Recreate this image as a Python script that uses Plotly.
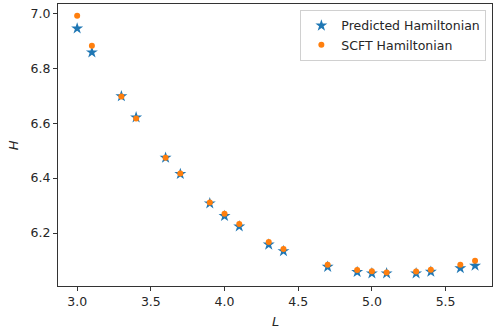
import plotly.graph_objects as go

# Lamellar period L and the corresponding Hamiltonian values
L_vals = [3.0, 3.1, 3.3, 3.4, 3.6, 3.7, 3.9, 4.0, 4.1, 4.3, 4.4, 4.7, 4.9, 5.0, 5.1, 5.3, 5.4, 5.6, 5.7]
H_predicted = [6.945, 6.858, 6.698, 6.621, 6.474, 6.415, 6.308, 6.262, 6.224, 6.158, 6.134,
               6.077, 6.058, 6.053, 6.053, 6.053, 6.059, 6.072, 6.081]
H_scft = [6.991, 6.882, 6.697, 6.617, 6.474, 6.417, 6.311, 6.270, 6.233, 6.167, 6.142,
          6.084, 6.065, 6.061, 6.056, 6.060, 6.066, 6.084, 6.099]

x_ticks = [3.0, 3.5, 4.0, 4.5, 5.0, 5.5]
y_ticks = [6.2, 6.4, 6.6, 6.8, 7.0]

FONT = "DejaVu Sans"
TXT = "#262626"

fig = go.Figure()
fig.add_trace(go.Scatter(
    x=L_vals, y=H_predicted, mode="markers", name="Predicted Hamiltonian",
    marker=dict(symbol="star", size=9, color="#1f77b4", line=dict(width=0)),
))
fig.add_trace(go.Scatter(
    x=L_vals, y=H_scft, mode="markers", name="SCFT Hamiltonian",
    marker=dict(symbol="circle", size=6, color="#ff7f0e", line=dict(width=0)),
))

axis_common = dict(
    showgrid=False, zeroline=False, showline=True, mirror=True,
    linecolor="#333333", linewidth=1, ticks="outside", ticklen=4,
    tickwidth=1, tickcolor="#333333",
    tickfont=dict(family=FONT, size=12.5, color=TXT),
)

fig.update_layout(
    width=493, height=328,
    margin=dict(l=58, r=1, t=4, b=42),
    plot_bgcolor="white", paper_bgcolor="white",
    font=dict(family=FONT, size=12.5, color=TXT),
    xaxis=dict(range=[2.87, 5.815], tickvals=x_ticks,
               ticktext=[f"{v:.1f}" for v in x_ticks], **axis_common),
    yaxis=dict(range=[6.007, 7.034], tickvals=y_ticks,
               ticktext=[f"{v:.1f}" for v in y_ticks], **axis_common),
    legend=dict(
        x=0.987, y=0.979, xanchor="right", yanchor="top",
        bordercolor="#d0d0d0", borderwidth=1, bgcolor="rgba(255,255,255,0.8)",
        font=dict(family=FONT, size=12.5, color=TXT),
        itemwidth=30, tracegroupgap=0,
    ),
    showlegend=True,
    annotations=[
        dict(text="<i>L</i>", xref="paper", yref="paper", x=0.502, y=-0.125,
             showarrow=False, xanchor="center", yanchor="middle",
             font=dict(family=FONT, size=13, color=TXT)),
        dict(text="<i>H</i>", xref="paper", yref="paper", x=-0.103, y=0.5,
             showarrow=False, textangle=-90, xanchor="center", yanchor="middle",
             font=dict(family=FONT, size=13, color=TXT)),
    ],
)

fig.write_html("out.html")
